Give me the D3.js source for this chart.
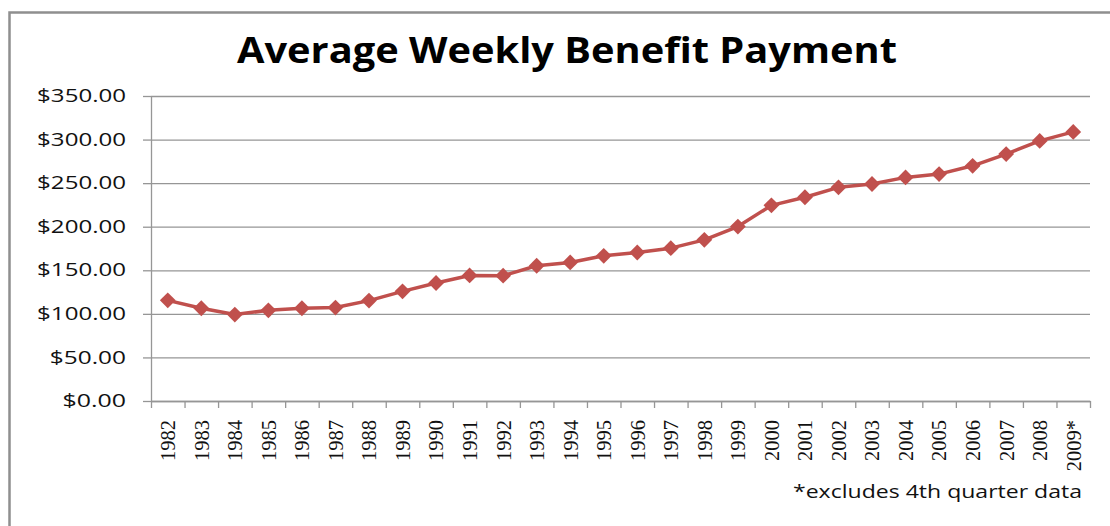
<!DOCTYPE html>
<html>
<head>
<meta charset="utf-8">
<script src="https://cdnjs.cloudflare.com/ajax/libs/d3/7.8.5/d3.min.js"></script>
<style>
  body { margin: 0; background: #fff; }
  svg { display: block; }
  .grid line { stroke: #969696; stroke-width: 1.3; }
  .grid path { display: none; }
  .axis path, .axis line { stroke: #969696; stroke-width: 1.3; }
</style>
</head>
<body>
<svg width="1110" height="526"></svg>
<script>
// chart values
const years = ['1982', '1983', '1984', '1985', '1986', '1987', '1988', '1989', '1990',
  '1991', '1992', '1993', '1994', '1995', '1996', '1997', '1998', '1999', '2000',
  '2001', '2002', '2003', '2004', '2005', '2006', '2007', '2008', '2009*'];
const payments = [115.5, 106.4, 99.2, 104.1, 106.4, 107.2, 115.2, 125.8, 135.4,
  144.1, 143.8, 155.2, 159.0, 166.6, 170.4, 175.4, 184.9, 200.2, 224.5,
  233.8, 245.2, 249.0, 256.6, 260.4, 269.9, 283.3, 298.5, 308.8];
const yTicks = [0, 50, 100, 150, 200, 250, 300, 350];
const title = 'Average Weekly Benefit Payment';
const footnote = '*excludes 4th quarter data';

const margin = {top: 96, right: 20, bottom: 125, left: 151};
const width = 1110 - margin.left - margin.right;
const height = 526 - margin.top - margin.bottom;

const svg = d3.select('svg');

// outer frame (only top and left edges show)
svg.append('path')
    .attr('d', 'M9.5,530 V12.5 H1115')
    .attr('fill', 'none')
    .attr('stroke', '#8f8f8f')
    .attr('stroke-width', 2.5);

svg.append('text')
    .attr('x', 237)
    .attr('y', 63)
    .attr('textLength', 660)
    .attr('lengthAdjust', 'spacingAndGlyphs')
    .style('font-family', 'Open Sans')
    .style('font-weight', 'bold')
    .style('font-size', '35px')
    .text(title);

const chart = svg.append('g')
    .attr('transform', `translate(${margin.left}, ${margin.top})`);

const yScale = d3.scaleLinear()
    .range([height, 0])
    .domain([0, 350]);

const xScale = d3.scaleBand()
    .range([0, width])
    .domain(years)
    .padding(0);

// boundaries between categories, used for the tick marks
const xEdges = d3.scaleLinear()
    .range([0, width])
    .domain([0, years.length]);

chart.append('g')
    .attr('class', 'grid')
    .call(d3.axisLeft(yScale)
        .tickValues(yTicks)
        .tickSize(-width)
        .tickFormat(''));

const yAxis = chart.append('g')
    .attr('class', 'axis')
    .call(d3.axisLeft(yScale)
        .tickValues(yTicks)
        .tickSize(8)
        .tickSizeOuter(0)
        .tickPadding(17)
        .tickFormat(d3.format('$,.2f')));

// the labels in the picture are wide, so stretch them to the read widths
yAxis.selectAll('text')
    .style('font-family', 'Open Sans')
    .style('font-size', '17.5px')
    .attr('textLength', function() { return this.textContent.length * 12.7; })
    .attr('lengthAdjust', 'spacingAndGlyphs')
    .attr('fill', '#111');

chart.append('g')
    .attr('class', 'axis')
    .attr('transform', `translate(0, ${height})`)
    .call(d3.axisBottom(xEdges)
        .tickValues(d3.range(years.length + 1))
        .tickSize(7)
        .tickSizeOuter(0)
        .tickFormat(''));

const xAxis = chart.append('g')
    .attr('transform', `translate(0, ${height})`)
    .call(d3.axisBottom(xScale).tickSize(0));

xAxis.select('.domain').remove();

xAxis.selectAll('text')
    .attr('transform', 'rotate(-90)')
    .attr('text-anchor', 'end')
    .attr('x', -19)
    .attr('y', 0)
    .attr('dy', '0.36em')
    .attr('fill', '#111')
    .style('font-family', 'Liberation Sans Narrow')
    .style('font-size', '20.5px');

const line = d3.line()
    .x((d, i) => xScale(years[i]) + xScale.bandwidth() / 2)
    .y((d) => yScale(d));

chart.append('path')
    .datum(payments)
    .attr('d', line)
    .attr('fill', 'none')
    .attr('stroke', '#c0504d')
    .attr('stroke-width', 3.5)
    .attr('stroke-linejoin', 'round');

chart.selectAll()
    .data(payments)
    .enter()
    .append('path')
    .attr('d', d3.symbol(d3.symbolSquare, 125))
    .attr('transform', (d, i) =>
        `translate(${xScale(years[i]) + xScale.bandwidth() / 2}, ${yScale(d)}) rotate(45)`)
    .attr('fill', '#c0504d');

svg.append('text')
    .attr('x', 793)
    .attr('y', 498)
    .attr('textLength', 289)
    .attr('lengthAdjust', 'spacingAndGlyphs')
    .attr('fill', '#111')
    .style('font-family', 'Open Sans')
    .style('font-size', '18px')
    .text(footnote);
</script>
</body>
</html>
